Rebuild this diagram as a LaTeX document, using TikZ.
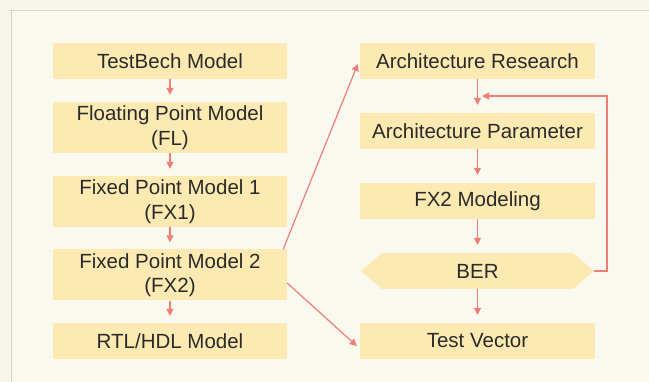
\documentclass[tikz,border=0pt]{standalone}
\usepackage{fontspec}
\setmainfont{Liberation Sans}
\usetikzlibrary{arrows.meta,calc}
\definecolor{outerbg}{HTML}{F6F6EC}
\definecolor{panelbg}{HTML}{F9F9F0}
\definecolor{panelline}{HTML}{D4D4CC}
\definecolor{boxfill}{HTML}{FDEAB3}
\definecolor{arrowc}{HTML}{EF7E74}
\definecolor{textc}{HTML}{2A2A2A}
\tikzset{
  box/.style={fill=boxfill, draw=none, minimum width=234pt, inner sep=0pt,
    align=center, text=textc, font=\fontsize{20.5}{24.5}\selectfont},
  conn/.style={draw=arrowc, line width=1.2pt, -{Triangle[width=7pt,length=7pt]}},
}
\begin{document}
\begin{tikzpicture}[x=1pt,y=-1pt]
\useasboundingbox (0,0) rectangle (649,382);
\fill[outerbg] (0,0) rectangle (649,382);
\fill[panelbg] (11,10) rectangle (649,382);
\draw[panelline, line width=1.2pt] (9,10.5) -- (649,10.5);
\draw[panelline, line width=1.2pt] (11.5,10) -- (11.5,382);
% left column
\node[box, minimum height=36pt] (tb) at (170,61) {TestBech Model};
\node[box, minimum height=51pt] (fl) at (170,127.5) {Floating Point Model\\(FL)};
\node[box, minimum height=51pt] (fx1) at (170,201.5) {Fixed Point Model 1\\(FX1)};
\node[box, minimum height=51pt] (fx2) at (170,275) {Fixed Point Model 2\\(FX2)};
\node[box, minimum height=36pt] (rtl) at (170,341) {RTL/HDL Model};
% right column
\node[box, minimum width=235pt, minimum height=36pt] (ar) at (477.5,61) {Architecture Research};
\node[box, minimum width=235pt, minimum height=36pt] (ap) at (477.5,131) {Architecture Parameter};
\node[box, minimum width=235pt, minimum height=36pt] (fxm) at (477.5,201) {FX2 Modeling};
\fill[boxfill] (361,271) -- (382,253) -- (573,253) -- (594,271) -- (573,289) -- (382,289) -- cycle;
\node[box, fill=none, minimum width=233pt, minimum height=36pt] (ber) at (477.5,271) {BER};
\node[box, minimum width=235pt, minimum height=36pt] (tv) at (477.5,341) {Test Vector};
% connectors
\draw[conn, shorten >=7pt] (tb) -- (fl);
\draw[conn, shorten >=7pt] (fl) -- (fx1);
\draw[conn, shorten >=7pt] (fx1) -- (fx2);
\draw[conn, shorten >=7pt] (fx2) -- (rtl);
\draw[conn, shorten >=8pt] (ar) -- (ap);
\draw[conn, shorten >=8pt] (ap) -- (fxm);
\draw[conn, shorten >=8pt] (fxm.south) -- (ber.north);
\draw[conn, shorten >=8pt] (ber.south) -- (tv.north);
\coordinate (fbtip) at (482,96);
\draw[conn] (ber.east) -- (607,271) -- (607,96) -- (fbtip);
\coordinate (artip) at ($(ar.west)+(-2,3)$);
\coordinate (tvtip) at ($(tv.west)+(-3,5)$);
\draw[conn] ($(fx2.north east)+(-4,0)$) -- (artip);
\draw[conn] ($(fx2.east)+(0,8)$) -- (tvtip);
\end{tikzpicture}
\end{document}
